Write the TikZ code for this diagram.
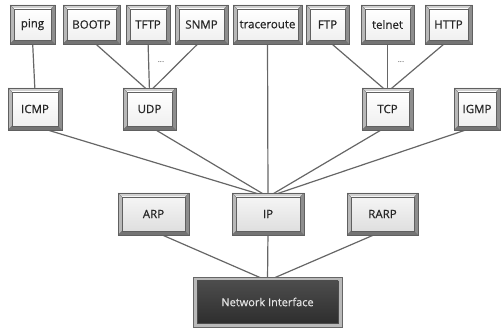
\documentclass[tikz,border=0pt]{standalone}
\usepackage{fontspec}
\setmainfont{Open Sans}
\newfontfamily\boxfont{Open Sans}[FakeBold=0.7]
\usetikzlibrary{calc}
\pgfdeclarelayer{bg}
\pgfsetlayers{bg,main}
\definecolor{frameT}{HTML}{D0D0D0}
\definecolor{frameL}{HTML}{B8B8B8}
\definecolor{frameB}{HTML}{747474}
\definecolor{frameR}{HTML}{8E8E8E}
\definecolor{outl}{HTML}{606060}
\definecolor{linec}{HTML}{666666}
\tikzset{
  inbox/.style={draw=outl, line width=0.4pt, inner sep=0pt, top color=white, bottom color=gray!12, font=\boxfont\fontsize{11.5}{13}\selectfont, text=black!85},
  inboxg/.style={inbox, top color=gray!8, bottom color=gray!25},
  nibox/.style={draw=black!70, line width=0.4pt, inner sep=0pt, top color=black!70, bottom color=black!82, font=\boxfont\fontsize{11}{13}\selectfont, text=gray!22},
  conn/.style={draw=linec, line width=1.2pt},
  dots/.style={font=\fontsize{8}{9}\selectfont, text=black!70, inner sep=1pt}
}
% name, x1, y1, x2, y2, style, text
\newcommand\bevbox[7]{%
  \fill[frameT] (#2,#3) -- (#4,#3) -- (#4-4,#3+4) -- (#2+4,#3+4) -- cycle;
  \fill[frameL] (#2,#3) -- (#2+4,#3+4) -- (#2+4,#5-4) -- (#2,#5) -- cycle;
  \fill[frameB] (#2,#5) -- (#2+4,#5-4) -- (#4-4,#5-4) -- (#4,#5) -- cycle;
  \fill[frameR] (#4,#3) -- (#4,#5) -- (#4-4,#5-4) -- (#4-4,#3+4) -- cycle;
  \draw[outl, line width=0.6pt] (#2,#3) rectangle (#4,#5);
  \draw[outl, line width=0.3pt] (#2,#3) -- (#2+4,#3+4) (#4,#3) -- (#4-4,#3+4) (#2,#5) -- (#2+4,#5-4) (#4,#5) -- (#4-4,#5-4);
  \node[#6, minimum width={(#4-#2-8)*1pt}, minimum height={(#5-#3-8)*1pt}] (#1) at ({(#2+#4)/2},{(#3+#5)/2}) {#7};
}
\begin{document}
\begin{tikzpicture}[x=1pt,y=-1pt]
\useasboundingbox (0,0) rectangle (503,328);
% top row
\bevbox{ping}{10}{5}{55}{44}{inbox}{ping}
\bevbox{bootp}{63}{5}{120}{44}{inbox}{BOOTP}
\bevbox{tftp}{126}{5}{170}{44}{inbox}{TFTP}
\bevbox{snmp}{175}{5}{228}{44}{inbox}{SNMP}
\bevbox{trace}{233}{5}{302}{44}{inbox}{traceroute}
\bevbox{ftp}{306}{5}{349}{44}{inbox}{FTP}
\bevbox{telnet}{361}{5}{414}{44}{inbox}{telnet}
\bevbox{http}{425}{5}{472}{44}{inbox}{HTTP}
% second row
\bevbox{icmp}{8}{88}{62}{130}{inbox}{ICMP}
\bevbox{udp}{123}{88}{176}{130}{inbox}{UDP}
\bevbox{tcp}{362}{88}{413}{130}{inbox}{TCP}
\bevbox{igmp}{454}{88}{500}{130}{inbox}{IGMP}
% third row
\bevbox{arp}{118}{193}{189}{235}{inboxg}{ARP}
\bevbox{ip}{232}{193}{304}{235}{inboxg}{IP}
\bevbox{rarp}{347}{193}{418}{235}{inboxg}{RARP}
% network interface
\fill[gray!55] (193,277) rectangle (342,327);
\draw[black!60, line width=0.6pt] (193,277) rectangle (342,327);
\node[nibox, minimum width=141pt, minimum height=42pt] (ni) at (267.5,302) {Network Interface};
% connectors
\begin{pgfonlayer}{bg}
\draw[conn] (ping.south) -- (icmp.north);
\draw[conn] (bootp.south) -- (udp.north);
\draw[conn] (tftp.south) -- (udp.north);
\draw[conn] (snmp.south) -- (udp.north);
\draw[conn] (ftp.south) -- (tcp.north);
\draw[conn] (telnet.south) -- (tcp.north);
\draw[conn] (http.south) -- (tcp.north);
\draw[conn] (icmp.south) -- (ip.north);
\draw[conn] (udp.south) -- (ip.north);
\draw[conn] (trace.south) -- (ip.north);
\draw[conn] (tcp.south) -- (ip.north);
\draw[conn] (igmp.south) -- (ip.north);
\draw[conn] (arp.south) -- (ni.north);
\draw[conn] (ip.south) -- (ni.north);
\draw[conn] (rarp.south) -- (ni.north);
\end{pgfonlayer}
\node[dots] (d1) at (161,62) {...};
\node[dots] (d2) at (401,62) {...};
\end{tikzpicture}
\end{document}
